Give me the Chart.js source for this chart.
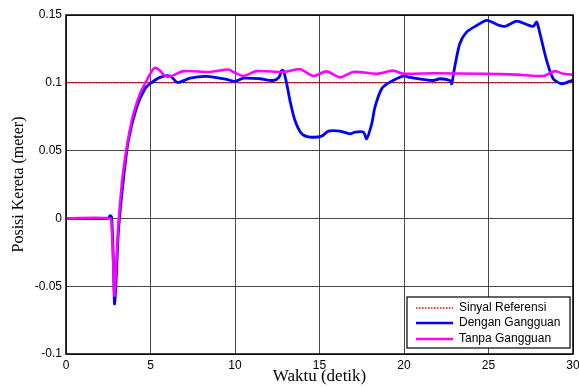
<!DOCTYPE html>
<html>
<head>
<meta charset="utf-8">
<script src="https://cdn.jsdelivr.net/npm/chart.js@4.4.1/dist/chart.umd.min.js"></script>
<style>
html,body{margin:0;padding:0;background:#fff;}
#wrap{position:relative;width:579px;height:387px;}
</style>
</head>
<body>
<div id="wrap"><canvas id="c" width="579" height="387"></canvas></div>
<script>
// ---- data ----
const seriesNames = ["Sinyal Referensi", "Dengan Gangguan", "Tanpa Gangguan"];
const xTickLabels = ["0", "5", "10", "15", "20", "25", "30"];
const yTickLabels = ["-0.1", "-0.05", "0", "0.05", "0.1", "0.15"];

const refTime = [0, 30];
const refValue = [0.1, 0.1];

const blueTime = [0, 2.5, 2.6, 2.7, 2.8, 2.87, 2.95, 3.1, 3.39, 3.69, 4.18, 4.67, 4.97, 5.56, 6.15, 6.55, 6.75, 7.34, 8.32, 9.5, 10, 10.5, 11.48, 12.27, 12.6, 12.76, 12.86, 13.06, 13.25, 13.55, 13.95, 14.44, 15.13, 15.52, 16.21, 16.8, 17.1, 17.6, 17.79, 18.09, 18.28, 18.68, 19.17, 19.96, 20.36, 21.73, 22.13, 22.72, 22.82, 23.0, 23.3, 23.7, 24.3, 24.9, 25.5, 25.98, 26.67, 27.26, 27.65, 27.85, 28.05, 28.44, 28.83, 29.33, 29.92, 30];
const blueValue = [0, 0, 0.002, 0.001, -0.03, -0.063, -0.05, -0.01, 0.028, 0.0575, 0.082, 0.0956, 0.0993, 0.104, 0.105, 0.1005, 0.1005, 0.1034, 0.1047, 0.1025, 0.101, 0.1034, 0.103, 0.1017, 0.104, 0.109, 0.109, 0.0993, 0.087, 0.0722, 0.0624, 0.060, 0.0607, 0.0644, 0.0644, 0.0624, 0.0636, 0.0636, 0.0587, 0.0698, 0.082, 0.0956, 0.1005, 0.105, 0.104, 0.1017, 0.103, 0.1017, 0.0993, 0.1116, 0.1288, 0.1374, 0.1423, 0.146, 0.143, 0.1416, 0.1455, 0.143, 0.1416, 0.1448, 0.136, 0.1165, 0.103, 0.0993, 0.1017, 0.102];

const magTime = [0, 2.6, 2.7, 2.8, 2.87, 2.95, 3.1, 3.39, 3.89, 4.38, 4.77, 5.1, 5.27, 5.56, 5.86, 6.25, 6.94, 8.52, 9.6, 10, 10.5, 11.28, 12.86, 13.85, 14.63, 15.42, 16.21, 17.0, 18.38, 19.37, 19.96, 21.7, 24.7, 26.67, 28.24, 28.93, 29.42, 30];
const magValue = [0, 0, -0.005, -0.035, -0.057, -0.04, -0.005, 0.035, 0.072, 0.092, 0.1017, 0.109, 0.111, 0.109, 0.105, 0.105, 0.1086, 0.108, 0.1098, 0.1074, 0.105, 0.1086, 0.108, 0.110, 0.105, 0.1084, 0.104, 0.108, 0.1067, 0.109, 0.1067, 0.107, 0.1067, 0.106, 0.105, 0.1086, 0.1067, 0.106];

function pts(xs, ys) { return xs.map((x, i) => ({x: x, y: ys[i]})); }

const frameAndLegend = {
  id: 'frameAndLegend',
  afterDraw(chart) {
    const ctx = chart.ctx;
    const a = chart.chartArea;
    ctx.save();
    ctx.strokeStyle = '#000';
    ctx.lineWidth = 1.5;
    ctx.strokeRect(a.left, a.top, a.right - a.left, a.bottom - a.top);
    // legend box
    const ds = chart.data.datasets;
    const bx = a.right - 166, by = a.bottom - 57, bw = 163, bh = 51;
    ctx.fillStyle = '#fff';
    ctx.fillRect(bx, by, bw, bh);
    ctx.lineWidth = 1.2;
    ctx.strokeRect(bx, by, bw, bh);
    ctx.font = '12px "Liberation Sans", Arial, sans-serif';
    ctx.textBaseline = 'middle';
    const rows = [by + 11, by + 26, by + 42];
    ds.forEach((d, i) => {
      const y = rows[i];
      ctx.beginPath();
      ctx.strokeStyle = d.borderColor;
      ctx.lineWidth = i === 0 ? 1.5 : 2.5;
      ctx.setLineDash(d.borderDash || []);
      ctx.moveTo(bx + 9, y);
      ctx.lineTo(bx + 46, y);
      ctx.stroke();
      ctx.setLineDash([]);
      ctx.fillStyle = '#000';
      ctx.fillText(d.label, bx + 52, y);
    });
    ctx.restore();
  }
};

new Chart(document.getElementById('c'), {
  type: 'line',
  data: {
    datasets: [
      { label: seriesNames[0], data: pts(refTime, refValue), borderColor: '#ff0000', borderWidth: 1.5, borderDash: [1.5, 1.5], pointRadius: 0, tension: 0, order: 3 },
      { label: seriesNames[1], data: pts(blueTime, blueValue), borderColor: '#0000ff', borderWidth: 2.8, pointRadius: 0, tension: 0.25, order: 2 },
      { label: seriesNames[2], data: pts(magTime, magValue), borderColor: '#ff00ff', borderWidth: 2.6, pointRadius: 0, tension: 0.25, order: 1 }
    ]
  },
  options: {
    responsive: false,
    animation: false,
    layout: { padding: { left: 0, right: 6, top: 15, bottom: 0 } },
    plugins: { legend: { display: false }, tooltip: { enabled: false } },
    scales: {
      x: {
        type: 'linear', min: 0, max: 30,
        ticks: { stepSize: 5, color: '#000', padding: 4, maxRotation: 0,
          font: { family: '"Liberation Sans", Arial, sans-serif', size: 12 },
          callback: (v) => { const i = Math.round(v / 5); return xTickLabels[i] ?? ''; } },
        grid: { color: 'rgba(0,0,0,0.72)', lineWidth: 1, drawTicks: false },
        border: { display: false },
        title: { display: true, text: 'Waktu (detik)', color: '#000', padding: { top: 3, bottom: 0 },
          font: { family: '"Liberation Serif", "Times New Roman", serif', size: 17 } },
        afterFit: (s) => { s.height = 33; s.paddingLeft = 0; s.paddingRight = 0; }
      },
      y: {
        type: 'linear', min: -0.1, max: 0.15,
        ticks: { stepSize: 0.05, color: '#000', padding: 4,
          font: { family: '"Liberation Sans", Arial, sans-serif', size: 12 },
          callback: (v) => { const i = Math.round((v + 0.1) / 0.05); return yTickLabels[i] ?? ''; } },
        grid: { color: 'rgba(0,0,0,0.72)', lineWidth: 1, drawTicks: false },
        border: { display: false },
        title: { display: true, text: 'Posisi Kereta (meter)', color: '#000', padding: { top: 9, bottom: 0 },
          font: { family: '"Liberation Serif", "Times New Roman", serif', size: 16 } },
        afterFit: (s) => { s.width = 66; s.paddingTop = 0; s.paddingBottom = 0; }
      }
    }
  },
  plugins: [frameAndLegend]
});
</script>
</body>
</html>
